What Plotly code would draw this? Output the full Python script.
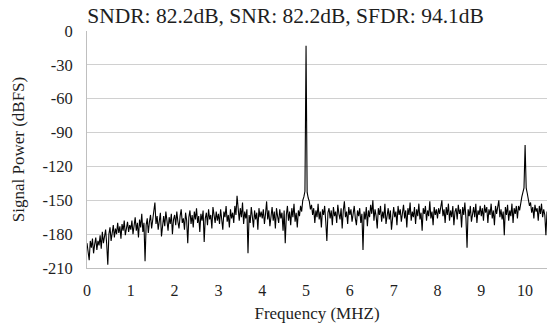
import plotly.graph_objects as go

FREQ_STEP = 0.025

power_dbfs = [
    # 0 - 1 MHz
    -188, -195, -203, -186, -192, -184, -197, -189, -183, -194,
    -186, -190, -181, -193, -178, -188, -183, -176, -189, -207,
    -180, -174, -186, -177, -172, -183, -175, -180, -170, -179,
    -173, -184, -171, -177, -168, -181, -174, -169, -178, -172,
    # 1 - 2 MHz
    -176, -168, -180, -171, -165, -177, -170, -183, -167, -174,
    -162, -178, -170, -204, -172, -166, -179, -169, -163, -175,
    -167, -160, -152, -171, -164, -176, -168, -161, -182, -170,
    -164, -173, -160, -168, -177, -165, -171, -162, -180, -167,
    # 2 - 3 MHz
    -163, -172, -160, -169, -175, -164, -158, -170, -166, -176,
    -161, -168, -188, -165, -159, -171, -163, -174, -160, -167,
    -157, -170, -164, -178, -162, -168, -159, -187, -166, -161,
    -172, -158, -167, -163, -175, -156, -165, -170, -160, -168,
    # 3 - 4 MHz
    -162, -171, -158, -166, -176, -160, -165, -155, -169, -163,
    -174, -158, -166, -161, -170, -155, -163, -146, -160, -168,
    -157, -165, -152, -171, -160, -166, -158, -197, -163, -170,
    -156, -164, -174, -159, -167, -161, -176, -157, -165, -160,
    # 4 - 5 MHz
    -166, -158, -171, -162, -151, -167, -159, -173, -161, -156,
    -168, -160, -175, -157, -164, -170, -158, -166, -161, -177,
    -159, -188, -163, -155, -168, -160, -172, -157, -165, -153,
    -169, -161, -174, -159, -164, -155, -160, -150, -147, -142,
    # 5 MHz tone
    -13,
    # 5 - 6 MHz
    -143, -148, -151, -158, -154, -163, -157, -170, -159,
    -165, -153, -167, -160, -174, -158, -163, -155, -169, -186,
    -161, -157, -166, -159, -172, -156, -164, -160, -170, -154,
    -162, -167, -157, -175, -159, -151, -165, -160, -171, -156,
    # 6 - 7 MHz
    -163, -158, -169, -161, -155, -166, -172, -159, -164, -157,
    -170, -162, -194, -160, -167, -156, -173, -159, -165, -154,
    -162, -150, -168, -158, -164, -175, -157, -163, -155, -169,
    -160, -166, -153, -171, -161, -157, -167, -159, -176, -162,
    # 7 - 8 MHz
    -156, -165, -160, -172, -155, -163, -158, -169, -161, -154,
    -166, -159, -174, -157, -163, -152, -168, -160, -165, -156,
    -171, -158, -164, -153, -167, -161, -177, -157, -162, -155,
    -168, -159, -164, -151, -166, -160, -172, -156, -163, -158,
    # 8 - 9 MHz
    -166, -157, -162, -155, -150, -164, -158, -170, -156, -163,
    -153, -168, -159, -165, -155, -172, -160, -157, -167, -154,
    -162, -158, -174, -156, -163, -152, -166, -192, -158, -164,
    -155, -169, -160, -156, -165, -153, -170, -159, -163, -155,
    # 9 - 10 MHz
    -164, -157, -168, -154, -161, -156, -170, -158, -163, -153,
    -166, -159, -172, -155, -162, -157, -150, -165, -158, -167,
    -160, -181, -156, -163, -154, -168, -159, -164, -153, -170,
    -157, -162, -155, -166, -155, -159, -150, -147, -143, -139,
    # 10 MHz harmonic
    -101,
    # 10 - 10.5 MHz
    -139, -144, -149, -155, -152, -161, -156, -166, -154, -160,
    -157, -168, -155, -162, -153, -165, -158, -163, -181, -160,
]

freq_mhz = [round(i * FREQ_STEP, 3) for i in range(len(power_dbfs))]

y_ticks = [0, -30, -60, -90, -120, -150, -180, -210]
x_ticks = [0, 1, 2, 3, 4, 5, 6, 7, 8, 9, 10]

title_text = "SNDR: 82.2dB, SNR: 82.2dB, SFDR: 94.1dB"
x_title = "Frequency (MHZ)"
y_title = "Signal Power (dBFS)"

FONT = "'Times New Roman', 'Liberation Serif', serif"
TXT = "#1e1e1e"

fig = go.Figure()
fig.add_trace(go.Scatter(
    x=freq_mhz, y=power_dbfs, mode="lines",
    line=dict(color="#000000", width=1.1),
    hoverinfo="skip", showlegend=False,
))

fig.update_layout(
    width=547, height=332,
    margin=dict(l=87, r=0, t=31, b=64),
    paper_bgcolor="white", plot_bgcolor="white",
    font=dict(family=FONT, color=TXT, size=16),
    title=dict(
        text=title_text, x=0.522, xanchor="center",
        y=1 - 15 / 332, yanchor="middle", yref="container",
        font=dict(family=FONT, size=21.5, color=TXT),
    ),
)

fig.update_xaxes(
    range=[0, 10.5], tickvals=x_ticks, ticktext=[str(t) for t in x_ticks],
    showgrid=False, zeroline=False,
    showline=True, linecolor="#bfbfbf", linewidth=1,
    ticks="", ticklabelstandoff=8,
    tickfont=dict(family=FONT, size=16, color=TXT),
    title=dict(text=x_title, font=dict(family=FONT, size=17, color=TXT), standoff=8),
)

fig.update_yaxes(
    range=[-210, 0], tickvals=y_ticks, ticktext=[str(t) for t in y_ticks],
    showgrid=True, gridcolor="#d0d0d0", gridwidth=1,
    zeroline=False,
    showline=True, linecolor="#bfbfbf", linewidth=1,
    ticks="", ticklabelstandoff=10,
    tickfont=dict(family=FONT, size=16.5, color=TXT),
    title=dict(text=y_title, font=dict(family=FONT, size=17, color=TXT), standoff=13),
)

fig.write_html("out.html")
